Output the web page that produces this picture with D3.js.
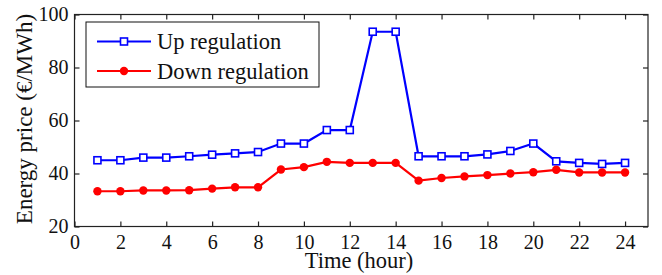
<!DOCTYPE html>
<html><head><meta charset="utf-8">
<script src="https://cdn.jsdelivr.net/npm/d3@7"></script>
<style>body{margin:0;background:#fff}svg{display:block}text{font-family:"Liberation Serif","Times New Roman",serif;fill:#111}</style>
</head><body><svg id="c" width="662" height="275"></svg>
<script>
const hours = [1,2,3,4,5,6,7,8,9,10,11,12,13,14,15,16,17,18,19,20,21,22,23,24];
const upRegulation = [45,45,46,46,46.5,47.1,47.6,48.1,51.3,51.3,56.4,56.4,93.5,93.5,46.5,46.5,46.5,47.2,48.5,51.3,44.6,44,43.6,44];
const downRegulation = [33.3,33.3,33.6,33.6,33.7,34.3,34.8,34.8,41.5,42.4,44.4,44,44,44,37.3,38.3,38.9,39.4,40,40.5,41.4,40.4,40.4,40.4];
const xTicks = [0,2,4,6,8,10,12,14,16,18,20,22,24];
const yTicks = [20,40,60,80,100];
const seriesNames = ["Up regulation","Down regulation"];

const svg = d3.select("#c");
const L=74.5, R=648, T=14.5, B=226.5;
const x = d3.scaleLinear().domain([0,25]).range([L,R]);
const y = d3.scaleLinear().domain([20,100]).range([B,T]);

const tk=5;
svg.append("rect").attr("x",L).attr("y",T).attr("width",R-L).attr("height",B-T).attr("fill","none").attr("stroke","#222").attr("stroke-width",1.2);
const gx = svg.append("g").attr("transform",`translate(0,${B})`).call(d3.axisBottom(x).tickValues(xTicks).tickSize(-tk).tickPadding(8));
const gxt = svg.append("g").attr("transform",`translate(0,${T})`).call(d3.axisTop(x).tickValues(xTicks).tickSize(-tk).tickFormat(""));
const gy = svg.append("g").attr("transform",`translate(${L},0)`).call(d3.axisLeft(y).tickValues(yTicks).tickSize(-tk).tickPadding(6));
const gyr = svg.append("g").attr("transform",`translate(${R},0)`).call(d3.axisRight(y).tickValues(yTicks).tickSize(-tk).tickFormat(""));
[gx,gxt,gy,gyr].forEach(g=>{g.attr("font-family",null).attr("font-size",null);g.select(".domain").remove();g.selectAll("line").attr("stroke","#222").attr("stroke-width",1.2);});
gx.selectAll("text").attr("font-size",20).attr("fill","#111");
gy.selectAll("text").attr("font-size",20).attr("fill","#111");

const line = d3.line().x((d,i)=>x(hours[i])).y(d=>y(d));
svg.append("path").datum(upRegulation).attr("d",line).attr("fill","none").attr("stroke","#0000ff").attr("stroke-width",2.2);
svg.append("path").datum(downRegulation).attr("d",line).attr("fill","none").attr("stroke","#ff0000").attr("stroke-width",2.2);
svg.selectAll(".sq").data(upRegulation).enter().append("rect")
 .attr("x",(d,i)=>x(hours[i])-3.5).attr("y",d=>y(d)-3.5).attr("width",7).attr("height",7)
 .attr("fill","#fff").attr("stroke","#0000ff").attr("stroke-width",1.6);
svg.selectAll(".ci").data(downRegulation).enter().append("circle")
 .attr("cx",(d,i)=>x(hours[i])).attr("cy",d=>y(d)).attr("r",4.2).attr("fill","#ff0000");

const lg = svg.append("g");
lg.append("rect").attr("x",86).attr("y",22).attr("width",233).attr("height",65).attr("fill","#fff").attr("stroke","#111").attr("stroke-width",1);
const ly=[41.5,71];
ly.forEach((yy,i)=>{
  lg.append("line").attr("x1",97).attr("x2",151).attr("y1",yy).attr("y2",yy).attr("stroke",i?"#ff0000":"#0000ff").attr("stroke-width",2.2);
  if(i===0) lg.append("rect").attr("x",124-3.5).attr("y",yy-3.5).attr("width",7).attr("height",7).attr("fill","#fff").attr("stroke","#0000ff").attr("stroke-width",1.6);
  else lg.append("circle").attr("cx",124).attr("cy",yy).attr("r",4.2).attr("fill","#ff0000");
  lg.append("text").attr("x",157).attr("y",yy+7.5).attr("font-size",22.5).text(seriesNames[i]);
});

svg.append("text").attr("x",(305+413)/2).attr("y",268).attr("text-anchor","middle").attr("font-size",22.5).text("Time (hour)");
svg.append("text").attr("transform",`translate(32,${(10+228)/2}) rotate(-90)`).attr("text-anchor","middle").attr("font-size",23).text("Energy price (€/MWh)");
</script></body></html>
